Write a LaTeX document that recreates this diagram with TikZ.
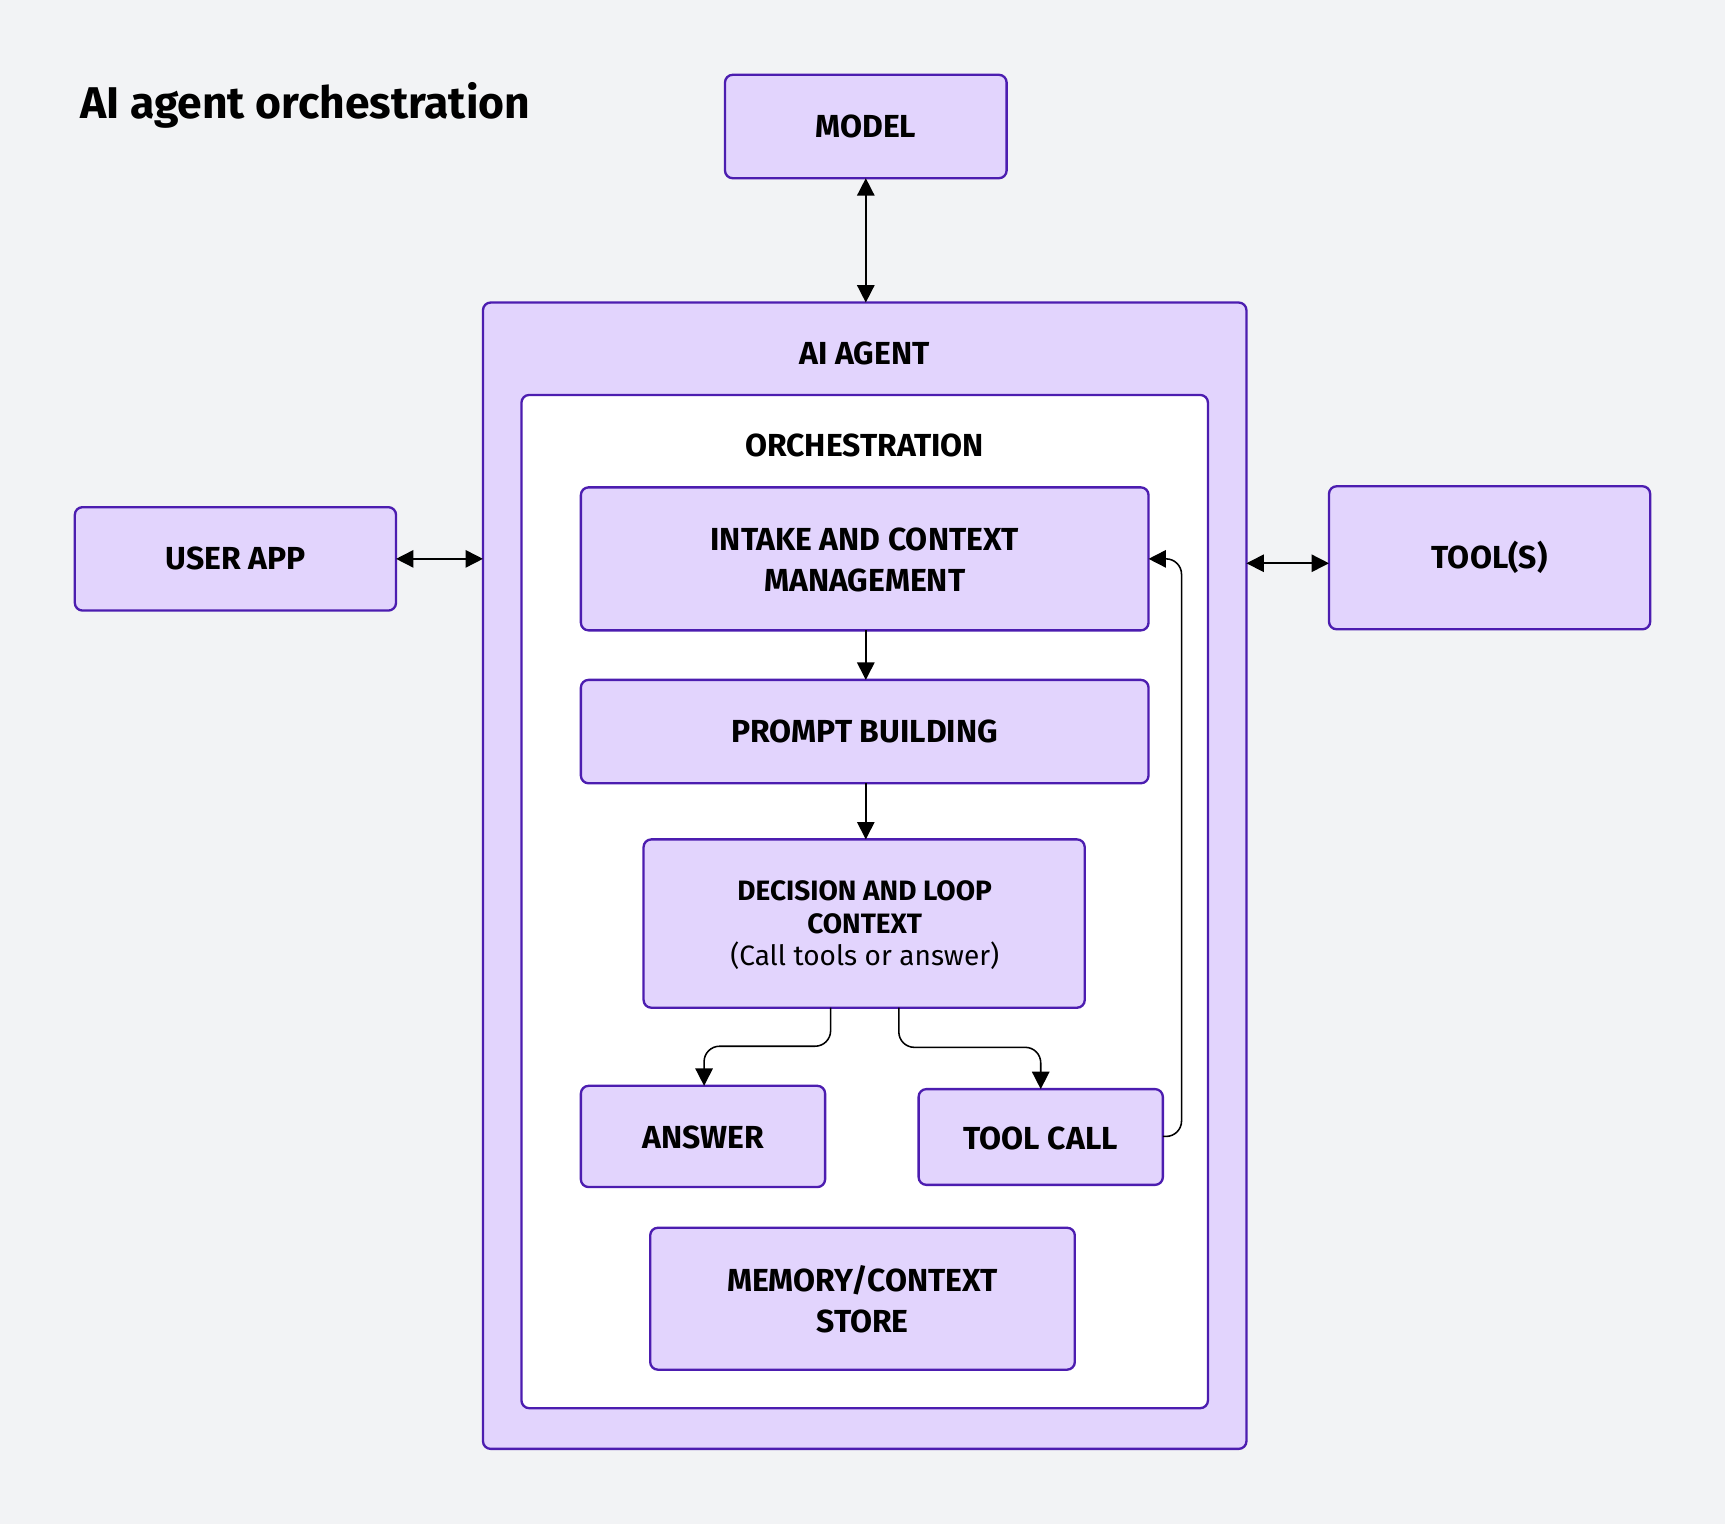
\documentclass[tikz,border=0pt]{standalone}
\usepackage{fontspec}
\setmainfont{Fira Sans}
\usetikzlibrary{arrows.meta}
\definecolor{bg}{HTML}{F2F3F5}
\definecolor{boxfill}{HTML}{E2D4FD}
\definecolor{boxline}{HTML}{4C1DB0}
\begin{document}
\begin{tikzpicture}[x=0.02cm,y=-0.02cm,
  box/.style={draw=boxline,fill=boxfill,line width=1.2pt,rounded corners=4pt},
  lbl/.style={font=\fontsize{16.5}{21}\selectfont\bfseries,align=center},
  arr/.style={line width=0.8pt,-{Triangle[length=9pt,width=9pt]}},
  darr/.style={line width=0.8pt,{Triangle[length=9pt,width=9pt]}-{Triangle[length=9pt,width=9pt]}}]
\fill[bg] (0,0) rectangle (1568,1385);
\useasboundingbox (0,0) rectangle (1568,1385);
\node[anchor=west,font=\fontsize{23}{28}\selectfont\bfseries] (title) at (67,96) {AI agent orchestration};
\draw[box] (659,68) rectangle (915,162); \node[lbl] (model) at (787,115) {MODEL};
\coordinate (modelb) at (787,162);
\draw[box] (439,275) rectangle (1133,1317);
\coordinate (agt) at (787,275); \coordinate (agl) at (439,508); \coordinate (agr) at (1133,512);
\node[lbl] (agent) at (786,321) {AI AGENT};
\draw[box,fill=white] (474,359) rectangle (1098,1280);
\node[lbl] (orch) at (786,405) {ORCHESTRATION};
\draw[box] (528,443) rectangle (1044,573); \node[lbl] (intake) at (786,509) {INTAKE AND CONTEXT\\MANAGEMENT};
\draw[box] (528,618) rectangle (1044,712); \node[lbl] (prompt) at (786,665) {PROMPT BUILDING};
\draw[box] (585,763) rectangle (986,916);
\node[align=center,font=\fontsize{14.5}{17}\selectfont] (dec) at (786,841) {\bfseries DECISION AND LOOP\\\bfseries CONTEXT\\(Call tools or answer)};
\draw[box] (528,987) rectangle (750,1079); \node[lbl] (answer) at (639,1034) {ANSWER};
\draw[box] (835,990) rectangle (1057,1077); \node[lbl] (toolcall) at (946,1035) {TOOL CALL};
\draw[box] (591,1116) rectangle (977,1245); \node[lbl] (mem) at (784,1181) {MEMORY/CONTEXT\\STORE};
\draw[box] (68,461) rectangle (360,555); \node[lbl] (user) at (214,508) {USER APP};
\draw[box] (1208,442) rectangle (1500,572); \node[lbl] (tools) at (1354,507) {TOOL(S)};
\coordinate (ur) at (360,508); \coordinate (tl) at (1208,512);
\coordinate (ib) at (787,573); \coordinate (pt) at (787,618);
\coordinate (pb) at (787,712); \coordinate (dt) at (787,763);
\coordinate (d1) at (755,916); \coordinate (at) at (640,987);
\coordinate (d2) at (817,916); \coordinate (tt) at (946,990);
\coordinate (tr) at (1057,1033); \coordinate (ir) at (1044,508);
\draw[darr] (modelb) -- (agt);
\draw[darr] (ur) -- (agl);
\draw[darr] (agr) -- (tl);
\draw[arr] (ib) -- (pt);
\draw[arr] (pb) -- (dt);
\draw[arr,rounded corners=8pt] (d1) |- (700,951) -| (at);
\draw[arr,rounded corners=8pt] (d2) |- (900,952) -| (tt);
\draw[arr,rounded corners=8pt] (tr) -| (1074,770) |- (ir);
\end{tikzpicture}
\end{document}
